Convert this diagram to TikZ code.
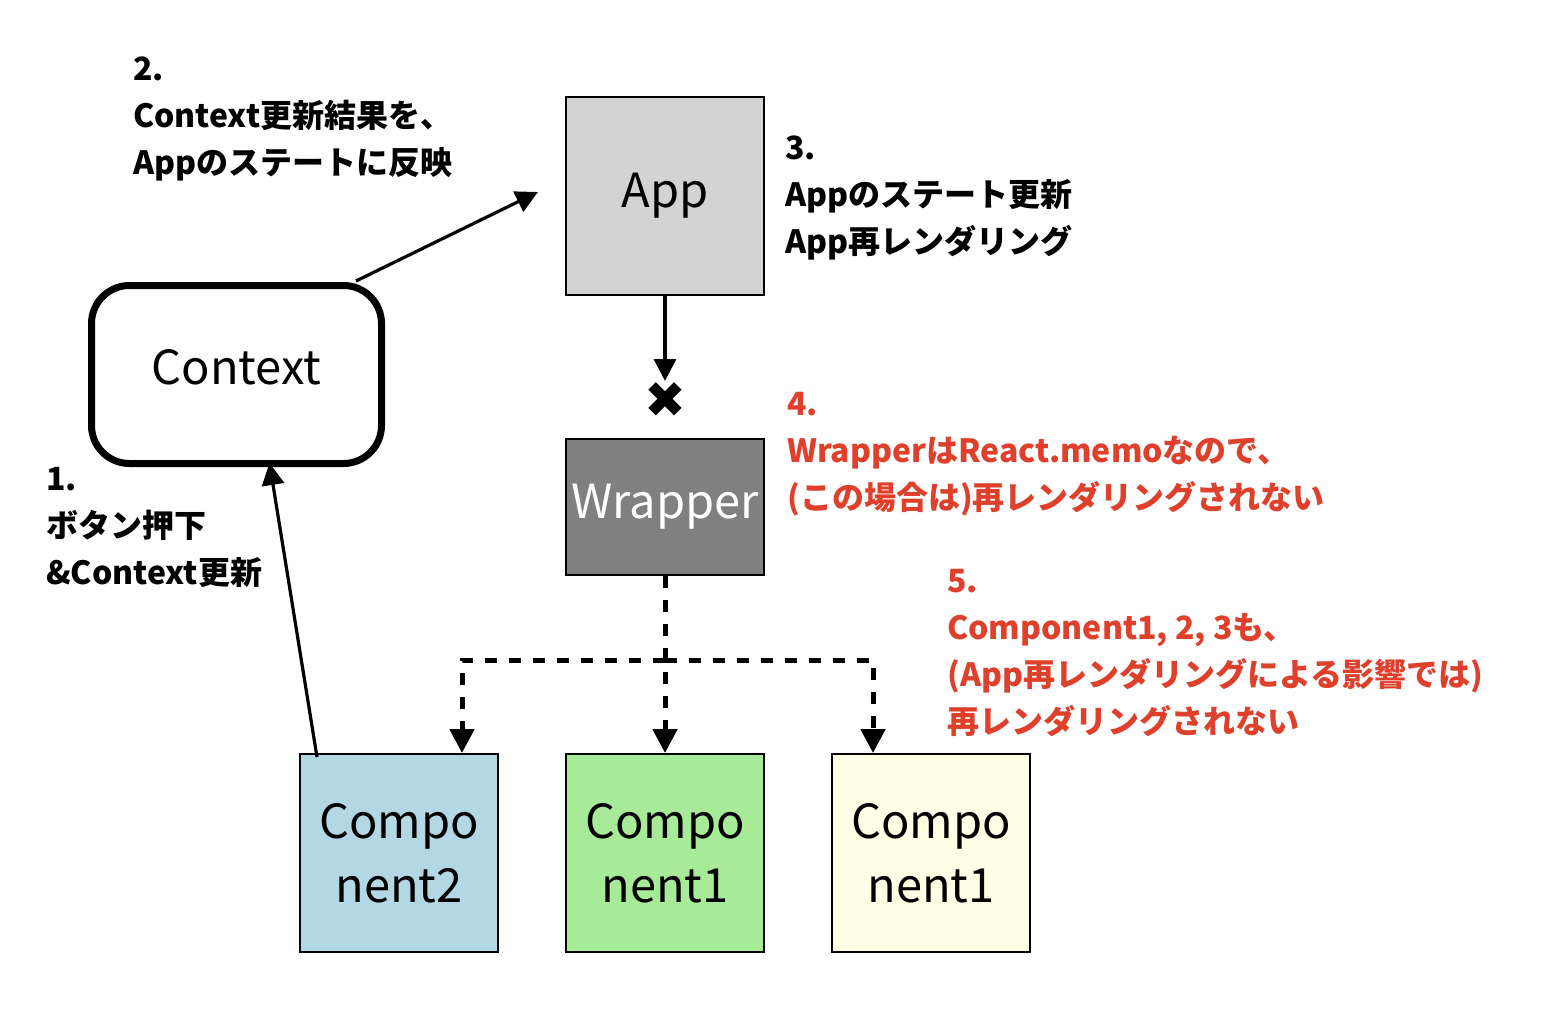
\documentclass[tikz,border=0pt]{standalone}
\usepackage{fontspec}
\setmainfont{Noto Sans CJK JP}
\newfontfamily\symfont{DejaVu Sans}
\usepackage{tikz}
\usetikzlibrary{calc}
\usetikzlibrary{arrows.meta}
\definecolor{appgray}{HTML}{D3D3D3}
\definecolor{wrapgray}{HTML}{808080}
\definecolor{compblue}{HTML}{B3D7E3}
\definecolor{compgreen}{HTML}{A7EA98}
\definecolor{compyellow}{HTML}{FFFFE5}
\definecolor{notered}{HTML}{DF402B}
\begin{document}
\begin{tikzpicture}[x=1pt,y=-1pt]
     \tikzstyle{every node}=[inner sep=0pt,font=\fontsize{32}{47}\selectfont\bfseries]
     \tikzstyle{box}=[draw=black,line width=2pt,minimum width=198pt,minimum height=198pt,align=center,font=\fontsize{47}{64}\selectfont]
     \tikzstyle{note}=[anchor=north west,align=left]
     \tikzstyle{rednote}=[note,text=notered]
     \tikzstyle{arr}=[line width=3.2pt,-{Triangle[length=22pt,width=22pt]}]
     \tikzstyle{dasharr}=[line width=5pt,dash pattern=on 12pt off 12pt,-{Triangle[length=24pt,width=24pt]}]
      \useasboundingbox (0,0) rectangle (1550,1012);
      \node[box,fill=appgray] (app) at (665,196) {\raisebox{-6pt}{App}};
      \node[box,fill=wrapgray,minimum height=136pt,text=white] (wrap) at (665,507) {Wrapper};
      \node[box,fill=compblue] (comp2) at (399,853) {Compo\\nent2};
      \node[box,fill=compgreen] (comp1) at (665,853) {Compo\\nent1};
      \node[box,fill=compyellow] (comp3) at (931,853) {Compo\\nent1};
      \node[draw,line width=7pt,rounded corners=38pt,minimum width=290pt,minimum height=178pt,font=\fontsize{47}{64}\selectfont] (ctx) at (236.5,374.5) {\raisebox{15pt}{Context}};
      \node[font=\symfont\fontsize{50}{50}\selectfont] (cross) at (665,400) {✖};
      \coordinate (crossin) at ($(cross.center)+(0,-19)$);
      \coordinate (appin) at ($(app.west)+(-27,-4)$);
      \coordinate (ctxout) at ($(ctx.north east)+(-29,-1)$);
      \coordinate (ctxin) at ($(ctx.south)+(33,-4)$);
      \coordinate (comp2out) at ($(comp2.north west)+(18,4)$);
      \coordinate (split) at (665,660);
      \coordinate (comp2in) at ($(comp2.north east)+(-37,0)$);
      \coordinate (comp3in) at ($(comp3.north west)+(42,0)$);
      \draw[arr] (ctxout) -- (appin);
      \draw[arr] (comp2out) -- (ctxin);
      \draw[arr] (app) -- (crossin);
      \draw[dasharr] (wrap) -- (comp1);
      \draw[dasharr] (split) -| (comp2in);
      \draw[dasharr] (split) -| (comp3in);
      \node[note] (step2) at (133,47) {\strut 2.\\Context更新結果を、\\Appのステートに反映};
      \node[note] (step3) at (785,126) {\strut 3.\\Appのステート更新\\App再レンダリング};
      \node[note] (step1) at (46,457) {\strut 1.\\ボタン押下\\\&Context更新};
      \node[rednote] (step4) at (787,382) {\strut 4.\\WrapperはReact.memoなので、\\(この場合は)再レンダリングされない};
      \node[rednote] (step5) at (947,559) {\strut 5.\\Component1, 2, 3も、\\(App再レンダリングによる影響では)\\再レンダリングされない};
    \end{tikzpicture}
\end{document}
